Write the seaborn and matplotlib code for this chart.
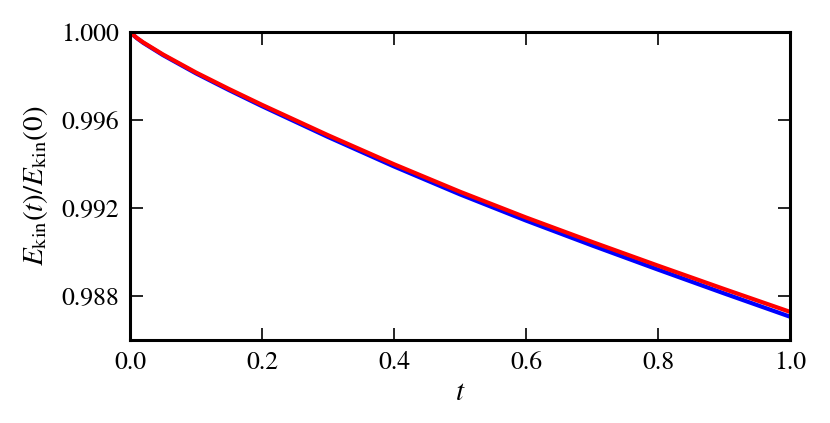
import numpy as np
import pandas as pd
import seaborn as sns
import matplotlib.pyplot as plt

# --- DATA ---
t = [0.0, 0.01, 0.02, 0.05, 0.1, 0.15, 0.2, 0.3, 0.4, 0.5, 0.6, 0.7, 0.8, 0.9, 1.0]
ekin_red = [1.0, 0.99974, 0.99953, 0.99898, 0.99816, 0.99741, 0.99669, 0.99531,
            0.99399, 0.99274, 0.99157, 0.99046, 0.98938, 0.98832, 0.98728]
ekin_blue = [1.0, 0.99973, 0.99951, 0.99895, 0.99812, 0.99736, 0.99663, 0.99523,
             0.99389, 0.99262, 0.99143, 0.99030, 0.98920, 0.98812, 0.98706]

df = pd.DataFrame({
    "t": t * 2,
    "E": ekin_blue + ekin_red,
    "run": ["blue"] * len(t) + ["red"] * len(t),
})

sns.set_theme(style="ticks")
plt.rcParams["font.family"] = ["STIXGeneral", "Liberation Serif", "DejaVu Serif"]
plt.rcParams["mathtext.fontset"] = "stix"
plt.rcParams["font.size"] = 18

fig = plt.figure(figsize=(8.3, 4.23), dpi=100)
ax = fig.add_axes([0.1566, 0.1962, 0.7952, 0.7281])

sns.lineplot(data=df, x="t", y="E", hue="run",
             palette={"blue": "#0000ff", "red": "#ff0000"},
             linewidth=3.0, legend=False, ax=ax)

ax.set_xlim(0, 1.0)
ax.set_ylim(0.986, 1.000)
ax.set_xticks([0.0, 0.2, 0.4, 0.6, 0.8, 1.0])
ax.set_xticklabels(["0.0", "0.2", "0.4", "0.6", "0.8", "1.0"])
ax.set_yticks([0.988, 0.992, 0.996, 1.000])
ax.set_yticklabels(["0.988", "0.992", "0.996", "1.000"])
ax.tick_params(direction="in", length=9, width=1.2, labelsize=18.5,
               top=True, right=True, pad=8, color="black", labelcolor="black")
for s in ax.spines.values():
    s.set_linewidth(2.2)
    s.set_color("black")
    s.set_visible(True)

ax.set_xlabel(r"$t$", fontsize=21, color="black", labelpad=4)
ax.set_ylabel(r"$E_{\rm kin}(t)/E_{\rm kin}(0)$", fontsize=21, color="black",
              labelpad=8)

fig.savefig("out.png", dpi=100)
